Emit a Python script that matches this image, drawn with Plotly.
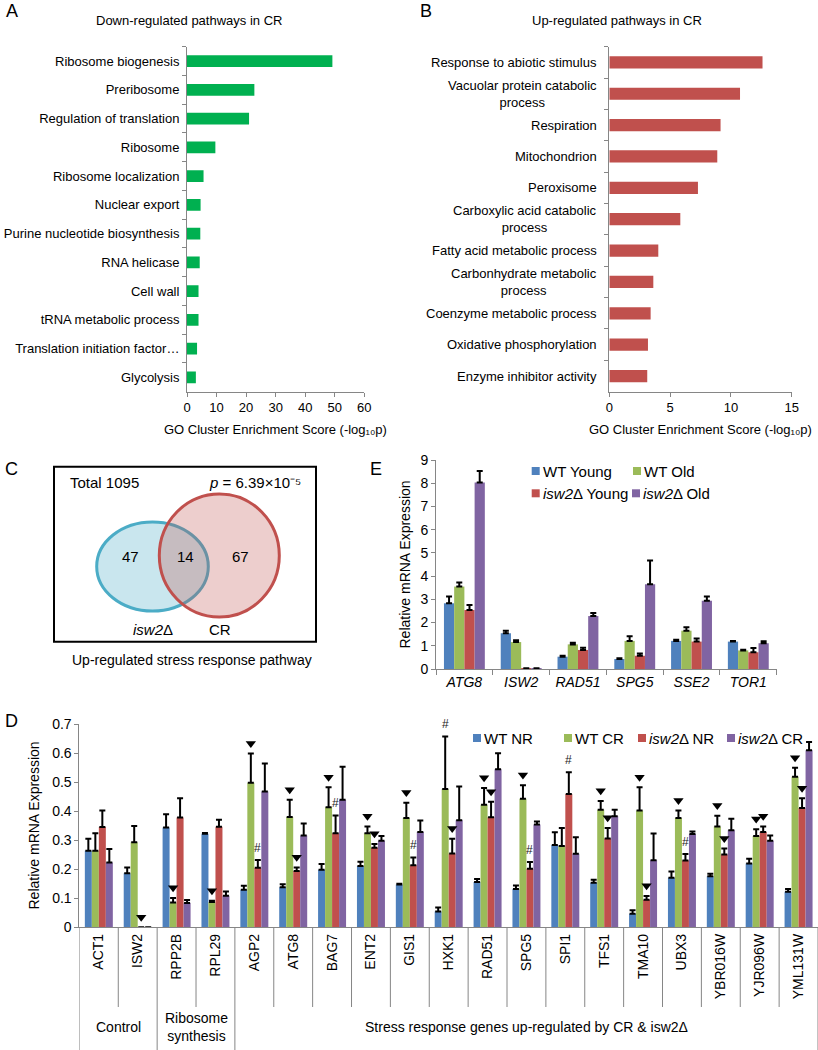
import plotly.graph_objects as go

W, H = 818, 1050
def px(x): return x / W
def py(y): return 1 - y / H

FONT = "Arial, Liberation Sans, sans-serif"
GRAY = "#868686"

# ---------------- Panel A data ----------------
a_terms = ["Ribosome biogenesis", "Preribosome", "Regulation of translation", "Ribosome",
           "Ribosome localization", "Nuclear export", "Purine nucleotide biosynthesis",
           "RNA helicase", "Cell wall", "tRNA metabolic process",
           "Translation initiation factor\u2026", "Glycolysis"]
a_scores = [49.2, 22.8, 21.0, 9.6, 5.6, 4.6, 4.5, 4.3, 3.9, 3.9, 3.4, 3.0]

# ---------------- Panel B data ----------------
b_terms = ["Response to abiotic stimulus", "Vacuolar protein catabolic<br>process", "Respiration",
           "Mitochondrion", "Peroxisome", "Carboxylic acid catabolic<br>process",
           "Fatty acid metabolic process", "Carbonhydrate metabolic<br>process",
           "Coenzyme metabolic process", "Oxidative phosphorylation", "Enzyme inhibitor activity"]
b_scores = [12.6, 10.75, 9.15, 8.88, 7.29, 5.84, 4.03, 3.62, 3.40, 3.18, 3.12]
go_axis_title = "GO Cluster Enrichment Score (-log\u2081\u2080p)"

# ---------------- Panel C data ----------------
venn_total = 1095
venn_isw2_only = 47
venn_both = 14
venn_cr_only = 67
venn_p = "6.39\u00d710\u207b\u2075"

# ---------------- Panel E data ----------------
e_genes = ["ATG8", "ISW2", "RAD51", "SPG5", "SSE2", "TOR1"]
e_series = ["WT Young", "WT Old", "isw2\u0394 Young", "isw2\u0394 Old"]
e_wt_young = [2.83, 1.54, 0.53, 0.43, 1.21, 1.18]
e_wt_young_err = [0.29, 0.11, 0.04, 0.03, 0.05, 0.03]
e_wt_old = [3.55, 1.16, 1.06, 1.21, 1.65, 0.80]
e_wt_old_err = [0.17, 0.08, 0.07, 0.20, 0.15, 0.03]
e_isw2_young = [2.54, 0.03, 0.82, 0.57, 1.18, 0.72]
e_isw2_young_err = [0.22, 0.0, 0.10, 0.10, 0.13, 0.18]
e_isw2_old = [8.03, 0.03, 2.28, 3.65, 2.94, 1.11]
e_isw2_old_err = [0.50, 0.0, 0.13, 1.02, 0.18, 0.08]

# ---------------- Panel D data ----------------
d_genes = ["ACT1", "ISW2", "RPP2B", "RPL29", "AGP2", "ATG8", "BAG7", "ENT2", "GIS1", "HXK1",
           "RAD51", "SPG5", "SPI1", "TFS1", "TMA10", "UBX3", "YBR016W", "YJR096W", "YML131W"]
d_groups = ["Control", "Ribosome<br>synthesis", "Stress response genes up-regulated by CR &amp; isw2\u0394"]
d_group_sizes = [2, 2, 15]
d_series = ["WT NR", "WT CR", "isw2\u0394 NR", "isw2\u0394 CR"]
d_wt_nr = [0.264, 0.186, 0.344, 0.322, 0.129, 0.138, 0.198, 0.211, 0.147, 0.054,
           0.156, 0.132, 0.283, 0.153, 0.047, 0.171, 0.176, 0.220, 0.122]
d_wt_nr_err = [0.041, 0.020, 0.045, 0.003, 0.014, 0.010, 0.020, 0.015, 0.003, 0.014,
               0.010, 0.012, 0.044, 0.011, 0.012, 0.021, 0.008, 0.016, 0.010]
d_wt_cr = [0.264, 0.293, 0.085, 0.087, 0.498, 0.380, 0.413, 0.324, 0.376, 0.476,
           0.422, 0.443, 0.280, 0.405, 0.402, 0.376, 0.347, 0.314, 0.518]
d_wt_cr_err = [0.060, 0.056, 0.016, 0.004, 0.100, 0.059, 0.069, 0.023, 0.053, 0.181,
               0.058, 0.046, 0.062, 0.030, 0.080, 0.026, 0.037, 0.024, 0.031]
d_isw2_nr = [0.345, 0.0, 0.378, 0.346, 0.205, 0.194, 0.324, 0.274, 0.214, 0.254,
             0.379, 0.202, 0.459, 0.306, 0.095, 0.230, 0.251, 0.328, 0.411]
d_isw2_nr_err = [0.057, 0.0, 0.066, 0.024, 0.027, 0.012, 0.061, 0.013, 0.026, 0.051,
                 0.053, 0.023, 0.075, 0.036, 0.013, 0.022, 0.020, 0.019, 0.033]
d_isw2_cr = [0.223, 0.0, 0.084, 0.109, 0.468, 0.316, 0.439, 0.298, 0.328, 0.369,
             0.544, 0.354, 0.253, 0.382, 0.231, 0.321, 0.334, 0.298, 0.610]
d_isw2_cr_err = [0.047, 0.0, 0.010, 0.014, 0.096, 0.041, 0.114, 0.016, 0.040, 0.116,
                 0.055, 0.010, 0.057, 0.023, 0.092, 0.009, 0.040, 0.018, 0.028]
# significance marks: "v" = triangle, "#" = hash
d_wt_cr_sig = ["", "", "v", "v", "v", "v", "v", "v", "v", "#", "v", "v", "", "v", "v", "v", "v", "v", "v"]
d_isw2_nr_sig = ["", "v", "", "", "#", "v", "#", "v", "#", "v", "v", "#", "#", "v", "v", "#", "v", "v", "v"]

COLORS = ["#4F81BD", "#9BBB59", "#C0504D", "#8064A2"]
GREEN_A = "#00B050"
RED_B = "#C0504D"


def ital(s, size):
    return "<span style='font-style:italic;font-size:%dpx'>%s</span>" % (size, s)


def fmt_gene(s, size):
    return s.replace("isw2", ital("isw2", size))


fig = go.Figure()

# ---- Panel A ----
fig.add_trace(go.Bar(x=a_scores, y=a_terms, orientation="h", width=0.41,
                     marker=dict(color=GREEN_A, line=dict(width=0)), xaxis="x", yaxis="y", showlegend=False))
# ---- Panel B ----
fig.add_trace(go.Bar(x=b_scores, y=b_terms, orientation="h", width=0.39,
                     marker=dict(color=RED_B, line=dict(width=0)), xaxis="x2", yaxis="y2", showlegend=False))

# ---- Panel E ----
e_vals = [e_wt_young, e_wt_old, e_isw2_young, e_isw2_old]
e_errs = [e_wt_young_err, e_wt_old_err, e_isw2_young_err, e_isw2_old_err]
for k in range(4):
    fig.add_trace(go.Bar(x=e_genes, y=e_vals[k], name=e_series[k],
                         marker=dict(color=COLORS[k], line=dict(width=0)),
                         error_y=dict(type="data", array=e_errs[k], arrayminus=[0] * len(e_genes),
                                      symmetric=False, color="black", thickness=2, width=3),
                         xaxis="x3", yaxis="y3", showlegend=False))

# ---- Panel D ----
d_vals = [d_wt_nr, d_wt_cr, d_isw2_nr, d_isw2_cr]
d_errs = [d_wt_nr_err, d_wt_cr_err, d_isw2_nr_err, d_isw2_cr_err]
n = len(d_genes)
BW = 0.18
for k in range(4):
    fig.add_trace(go.Bar(x=list(range(n)), y=d_vals[k], name=d_series[k], width=BW,
                         offset=-2 * BW + k * BW,
                         marker=dict(color=COLORS[k], line=dict(width=0)),
                         error_y=dict(type="data", array=d_errs[k], arrayminus=[0] * n,
                                      symmetric=False, color="black", thickness=2, width=3),
                         xaxis="x4", yaxis="y4", showlegend=False))

ann = []
for k, sig in [(1, d_wt_cr_sig), (2, d_isw2_nr_sig)]:
    tx, ty = [], []
    for i, s in enumerate(sig):
        xc = i - 2 * BW + k * BW + BW / 2
        top = d_vals[k][i] + d_errs[k][i]
        if s == "v":
            tx.append(xc); ty.append(top + 0.035)
        elif s == "#":
            ann.append(dict(x=xc, y=top + 0.042, xref="x4", yref="y4", text="#", showarrow=False,
                            xanchor="center", yanchor="middle",
                            font=dict(family=FONT, size=12, color="#222222")))
    fig.add_trace(go.Scatter(x=tx, y=ty, mode="markers",
                             marker=dict(symbol="triangle-down", size=9, color="black"),
                             xaxis="x4", yaxis="y4", showlegend=False, hoverinfo="skip"))

axis_common = dict(showgrid=False, zeroline=False, showline=True, linecolor=GRAY, linewidth=1,
                   automargin=False,
                   ticks="outside", tickcolor=GRAY, ticklen=4, tickfont=dict(family=FONT, color="black"))

fig.update_layout(
    width=W, height=H, margin=dict(l=0, r=0, t=0, b=0, pad=0, autoexpand=False),
    paper_bgcolor="white", plot_bgcolor="white",
    barmode="group", bargap=0.28, bargroupgap=0,
    font=dict(family=FONT, color="black"),
    xaxis=dict(domain=[px(187), px(364.3)], range=[0, 60], dtick=10, anchor="y",
               **{**axis_common, "tickfont": dict(family=FONT, size=13, color="black")}),
    yaxis=dict(domain=[py(391.7), py(46.7)], autorange="reversed", anchor="x", tickson="boundaries",
               ticklabelstandoff=4,
               **{**axis_common, "tickfont": dict(family=FONT, size=13, color="black")}),
    xaxis2=dict(domain=[px(609.3), px(791.7)], range=[0, 15], dtick=5, anchor="y2",
                **{**axis_common, "tickfont": dict(family=FONT, size=13, color="black")}),
    yaxis2=dict(domain=[py(391.7), py(46.7)], autorange="reversed", anchor="x2", tickson="boundaries",
                showticklabels=False, **axis_common),
    xaxis3=dict(domain=[px(436), px(776.7)], type="category", anchor="y3", tickson="boundaries",
                **{**axis_common, "ticklen": 5,
                   "tickfont": dict(family=FONT, size=14, color="black", style="italic")}),
    yaxis3=dict(domain=[py(669), py(460)], range=[0, 9], dtick=1, anchor="x3",
                **{**axis_common, "tickfont": dict(family=FONT, size=14, color="black")}),
    xaxis4=dict(domain=[px(79.4), 1.0], range=[-0.5, n - 0.5], anchor="y4",
                tickvals=list(range(n)), ticktext=d_genes, tickangle=-90,
                **{**axis_common, "ticks": "", "tickfont": dict(family=FONT, size=14, color="black")}),
    yaxis4=dict(domain=[py(927.3), py(724)], range=[0, 0.7], dtick=0.1, anchor="x4",
                **{**axis_common, "tickfont": dict(family=FONT, size=14, color="black")}),
)

def text(x, y, s, size=13, xanchor="center", yanchor="middle", **kw):
    ann.append(dict(x=px(x), y=py(y), xref="paper", yref="paper", text=s, showarrow=False,
                    xanchor=xanchor, yanchor=yanchor, font=dict(family=FONT, size=size, color="black"), **kw))

# panel letters
text(4, 11, "A", 18, xanchor="left")
text(418, 11, "B", 18, xanchor="left")
text(3, 469, "C", 18, xanchor="left")
text(368, 469, "E", 18, xanchor="left")
text(3, 721, "D", 18, xanchor="left")

# panel titles and axis titles
text(189, 20, "Down-regulated pathways in CR", 13)
text(617, 20, "Up-regulated pathways in CR", 13)
text(275.5, 429, go_axis_title, 13)
text(700.5, 429, go_axis_title, 13)
text(404, 564.5, "Relative mRNA Expression", 14, textangle=-90)
text(33, 825.5, "Relative mRNA Expression", 14, textangle=-90)

# panel B category labels (multi-line, centered lines)
for term in b_terms:
    ann.append(dict(x=px(598.5), xref="paper", y=term, yref="y2", text=term, showarrow=False,
                    xanchor="right", yanchor="middle", align="center",
                    font=dict(family=FONT, size=13, color="black")))

# panel C Venn
shapes = []
shapes.append(dict(type="rect", xref="paper", yref="paper", x0=px(54), x1=px(316), y0=py(466.7), y1=py(641.7),
                   line=dict(color="black", width=2), fillcolor="rgba(0,0,0,0)"))
shapes.append(dict(type="circle", xref="paper", yref="paper", x0=px(96.7), x1=px(208.3), y0=py(611), y1=py(522),
                   line=dict(color="#4BACC6", width=3), fillcolor="rgba(75,172,198,0.30)"))
shapes.append(dict(type="circle", xref="paper", yref="paper", x0=px(159.3), x1=px(279.3), y0=py(617), y1=py(494),
                   line=dict(color="#C0504D", width=3), fillcolor="rgba(192,80,77,0.28)"))
text(68, 483, "Total %d" % venn_total, 15, xanchor="left")
text(303, 483, ital("p", 15) + " = " + venn_p, 15, xanchor="right")
text(130, 556, str(venn_isw2_only), 15)
text(185, 556, str(venn_both), 15)
text(240, 556, str(venn_cr_only), 15)
text(152.5, 629, fmt_gene("isw2\u0394", 15), 15)
text(220, 629, "CR", 15)
text(192, 660, "Up-regulated stress response pathway", 14)

# legends (keys + labels)
def legend_entry(xs, yc, label, color, size=15):
    shapes.append(dict(type="rect", xref="paper", yref="paper", x0=px(xs), x1=px(xs + 8),
                       y0=py(yc + 4), y1=py(yc - 4), line=dict(width=0), fillcolor=color))
    text(xs + 9, yc, fmt_gene(label, size), size, xanchor="left")

e_leg_pos = [(531.7, 471), (633, 471), (531.7, 493.3), (632, 493.3)]
for k in range(4):
    legend_entry(e_leg_pos[k][0], e_leg_pos[k][1], e_series[k], COLORS[k])
d_leg_x = [473, 564, 638, 727]
for k in range(4):
    legend_entry(d_leg_x[k], 738, d_series[k], COLORS[k])

# panel D separators and group labels
boundaries = set()
s = 0
for g in d_group_sizes:
    boundaries.add(s)
    s += g
boundaries.add(s)
for i in range(n + 1):
    yb = 1050 if i in boundaries else 1007
    shapes.append(dict(type="line", xref="x4", yref="paper", x0=i - 0.5, x1=i - 0.5,
                       y0=py(927.3), y1=py(yb), line=dict(color=GRAY, width=1)))
s = 0
for g, sz in zip(d_groups, d_group_sizes):
    ann.append(dict(x=s + (sz - 1) / 2, xref="x4", y=py(1027), yref="paper", text=g, showarrow=False,
                    xanchor="center", yanchor="middle", font=dict(family=FONT, size=14, color="black")))
    s += sz

fig.update_layout(annotations=ann, shapes=shapes)
fig.write_html("out.html", config={"displayModeBar": False},
               post_script="document.body.style.margin='0px';")
